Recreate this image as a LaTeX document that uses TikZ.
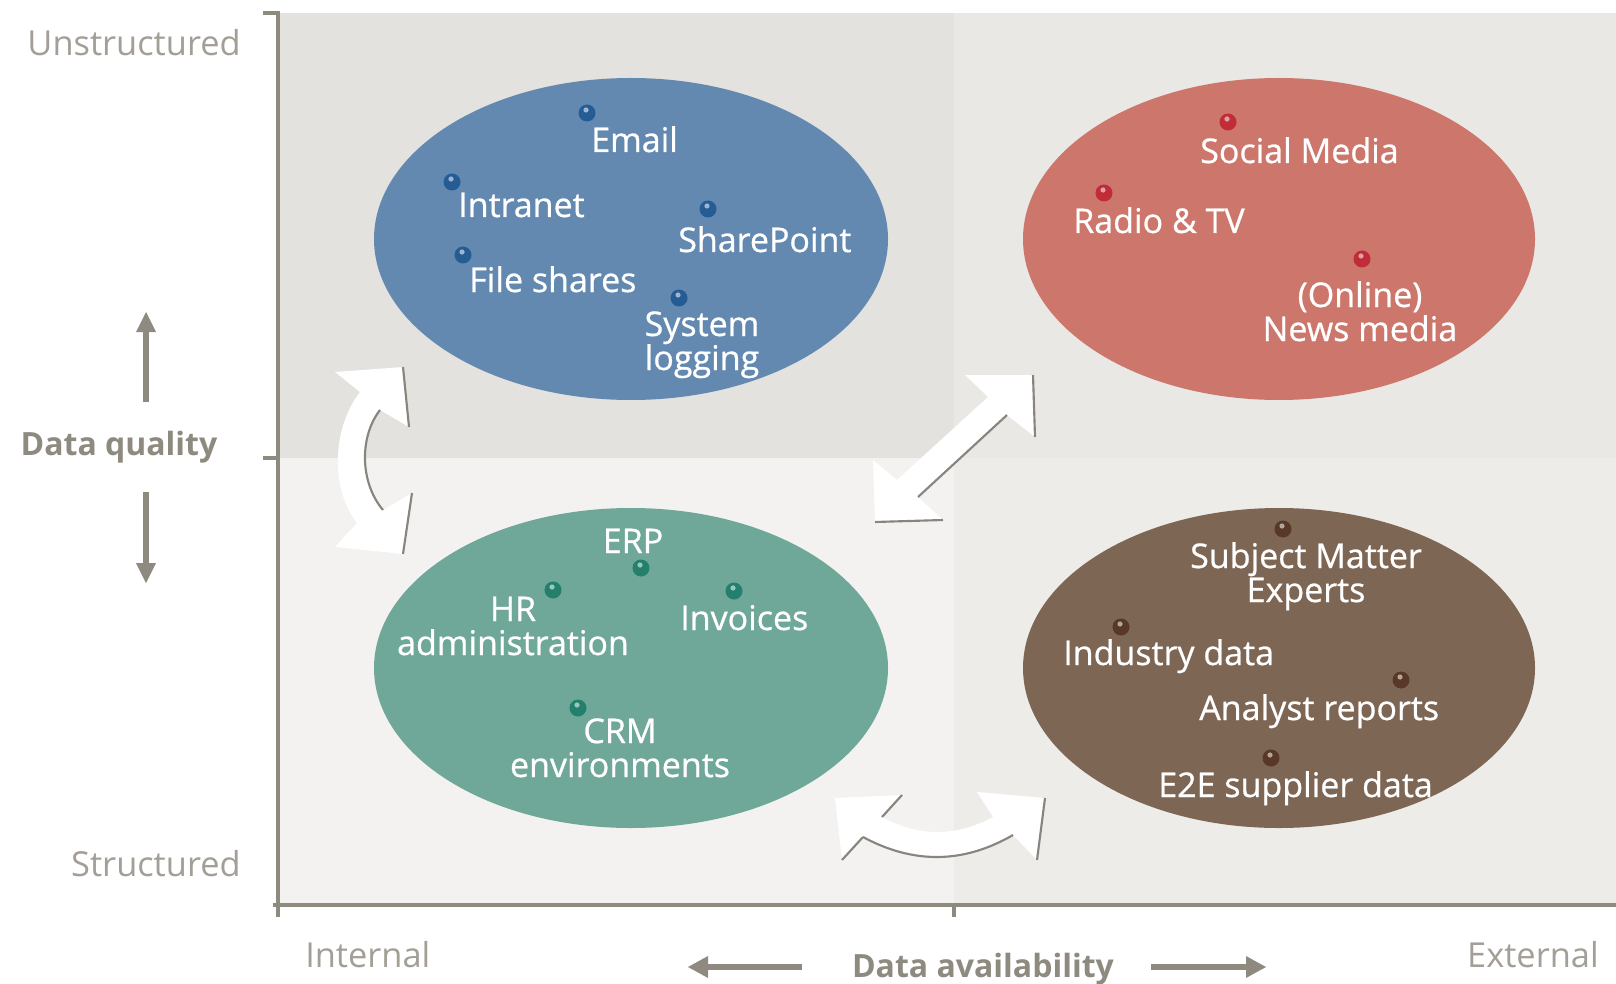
\documentclass[tikz,border=0pt]{standalone}
\usepackage{fontspec}
\setmainfont{Open Sans}
\newfontface\labelface{Open Sans}[FakeBold=0.7]
\usepackage{tikz}

\definecolor{axisgray}{RGB}{142,138,128}
\definecolor{lightgray}{RGB}{163,159,151}
\definecolor{shadowgray}{RGB}{136,133,126}
\definecolor{quadTL}{RGB}{227,226,222}
\definecolor{quadTR}{RGB}{233,232,228}
\definecolor{quadBL}{RGB}{243,242,240}
\definecolor{quadBR}{RGB}{237,236,232}
\definecolor{intblue}{RGB}{99,137,177}
\definecolor{extred}{RGB}{205,118,107}
\definecolor{intgreen}{RGB}{111,168,152}
\definecolor{extbrown}{RGB}{126,102,85}
\definecolor{bluedot}{RGB}{38,92,148}
\definecolor{reddot}{RGB}{192,44,56}
\definecolor{greendot}{RGB}{36,128,108}
\definecolor{browndot}{RGB}{88,56,38}

\tikzset{
  lbl/.style={text=white, inner sep=0.75pt, align=center,
    font=\labelface\fontsize{25.5}{25.5}\selectfont},
  axlbl/.style={text=lightgray, inner sep=0.75pt,
    font=\fontsize{25.8}{28}\selectfont},
  axbold/.style={text=axisgray, inner sep=0.75pt,
    font=\fontsize{24}{28}\selectfont\bfseries},
  shadowline/.style={draw=shadowgray, line width=1.6},
  gloss/.style={fill=white, opacity=0.55},
}

\begin{document}
\begin{tikzpicture}[x=0.75pt,y=0.75pt,yscale=-1,xscale=1]
\useasboundingbox (0,0) rectangle (1616,984);
\fill [white] (0,0) rectangle (1616,984);

% Quadrant backgrounds
\fill [quadTL] (278,13) rectangle (954,458);
\fill [quadTR] (954,13) rectangle (1616,458);
\fill [quadBL] (278,458) rectangle (954,905);
\fill [quadBR] (954,458) rectangle (1616,905);

% Axes and ticks
\draw [axisgray, line width=3.5] (278,13) -- (278,917);
\draw [axisgray, line width=3.5] (273,905) -- (1616,905);
\draw [axisgray, line width=3] (263,13) -- (280,13);
\draw [axisgray, line width=3] (263,458) -- (278,458);
\draw [axisgray, line width=3] (954,905) -- (954,917);

% Ellipses
\fill [intblue] (631,239) ellipse (257 and 161);
\fill [extred] (1279,239) ellipse (256 and 161);
\fill [intgreen] (631,668) ellipse (257 and 160);
\fill [extbrown] (1279,668) ellipse (256 and 160);

% Dots: internal, unstructured
\fill [bluedot] (587,113) circle (8.5);  \fill [gloss] (586,110) circle (2.6);
\fill [bluedot] (452,182) circle (8.5);  \fill [gloss] (451,179) circle (2.6);
\fill [bluedot] (708,209) circle (8.5);  \fill [gloss] (707,206) circle (2.6);
\fill [bluedot] (463,255) circle (8.5);  \fill [gloss] (462,252) circle (2.6);
\fill [bluedot] (679,298) circle (8.5);  \fill [gloss] (678,295) circle (2.6);
% Dots: external, unstructured
\fill [reddot] (1228,122) circle (8.5);  \fill [gloss] (1227,119) circle (2.6);
\fill [reddot] (1104,193) circle (8.5);  \fill [gloss] (1103,190) circle (2.6);
\fill [reddot] (1362,259) circle (8.5);  \fill [gloss] (1361,256) circle (2.6);
% Dots: internal, structured
\fill [greendot] (641,568) circle (8.5); \fill [gloss] (640,565) circle (2.6);
\fill [greendot] (553,590) circle (8.5); \fill [gloss] (552,587) circle (2.6);
\fill [greendot] (734,591) circle (8.5); \fill [gloss] (733,588) circle (2.6);
\fill [greendot] (578,708) circle (8.5); \fill [gloss] (577,705) circle (2.6);
% Dots: external, structured
\fill [browndot] (1283,529) circle (8.5); \fill [gloss] (1282,526) circle (2.6);
\fill [browndot] (1121,627) circle (8.5); \fill [gloss] (1120,624) circle (2.6);
\fill [browndot] (1401,680) circle (8.5); \fill [gloss] (1400,677) circle (2.6);
\fill [browndot] (1271,758) circle (8.5); \fill [gloss] (1270,755) circle (2.6);

% Curved double arrow on the left
\fill [white] (335,372) -- (403,367) -- (409,427) -- (380,410)
  .. controls (359,437) and (360,483) .. (383,510) -- (412,493) -- (403,554)
  -- (335,547) -- (357,523) .. controls (331,490) and (331,430) .. (360,392) -- cycle;
\draw [shadowline] (403,367) -- (409,427);
\draw [shadowline] (380,410) .. controls (359,437) and (360,483) .. (383,510);
\draw [shadowline] (412,493) -- (403,554);

% Diagonal double arrow
\fill [white] (965,375) -- (1033,375) -- (1035,437) -- (1007,415) -- (918,497)
  -- (943,520) -- (875,522) -- (873,460) -- (897,480) -- (988,397) -- cycle;
\draw [shadowline] (1033,375) -- (1035,437);
\draw [shadowline] (1007,415) -- (918,497);
\draw [shadowline] (875,522) -- (943,520);

% Curved double arrow at the bottom
\fill [white] (835,798) -- (902,795) -- (882,817)
  .. controls (919,837) and (956,837) .. (993,817) -- (977,792) -- (1045,798)
  -- (1037,860) -- (1013,835) .. controls (963,864) and (913,864) .. (863,837)
  -- (842,860) -- cycle;
\draw [shadowline] (902,795) -- (882,817);
\draw [shadowline] (863,837) -- (842,860);
\draw [shadowline] (1013,835) .. controls (963,864) and (913,864) .. (863,837);
\draw [shadowline] (1045,798) -- (1037,860);

% Data quality arrows
\draw [axisgray, line width=4] (146,402) -- (146,328);
\draw [shift={(146,312)}, rotate=90] [fill=axisgray, draw=none] (20,-10) -- (0,0) -- (20,10) -- cycle;
\draw [axisgray, line width=4] (146,492) -- (146,567);
\draw [shift={(146,583)}, rotate=270] [fill=axisgray, draw=none] (20,-10) -- (0,0) -- (20,10) -- cycle;
% Data availability arrows
\draw [axisgray, line width=5] (802,967) -- (704,967);
\draw [shift={(688,967)}, rotate=360] [fill=axisgray, draw=none] (20,-11) -- (0,0) -- (20,11) -- cycle;
\draw [axisgray, line width=5] (1151,967) -- (1250,967);
\draw [shift={(1266,967)}, rotate=180] [fill=axisgray, draw=none] (20,-11) -- (0,0) -- (20,11) -- cycle;

% Text Node: internal, unstructured (two-line nodes sit on their last baseline)
\node [lbl, anchor=base west] (email) at (590,152) {Email};
\node [lbl, anchor=base west] (intranet) at (457,217) {Intranet};
\node [lbl, anchor=base west] (sharepoint) at (677,252) {SharePoint};
\node [lbl, anchor=base west] (fileshares) at (468,292) {File shares};
\node [lbl, anchor=base] (syslog) at (702,370) {System\\logging};
% Text Node: external, unstructured
\node [lbl, anchor=base west] (social) at (1199,163) {Social Media};
\node [lbl, anchor=base west] (radiotv) at (1072,233) {Radio \& TV};
\node [lbl, anchor=base] (news) at (1360,341) {(Online)\\News media};
% Text Node: internal, structured
\node [lbl, anchor=base] (erp) at (633,553) {ERP};
\node [lbl, anchor=base] (hradmin) at (513,655) {HR\\administration};
\node [lbl, anchor=base west] (invoices) at (679,630) {Invoices};
\node [lbl, anchor=base] (crm) at (620,777) {CRM\\environments};
% Text Node: external, structured
\node [lbl, anchor=base] (sme) at (1306,602) {Subject Matter\\Experts};
\node [lbl, anchor=base west] (industry) at (1062,665) {Industry data};
\node [lbl, anchor=base west] (analyst) at (1198,720) {Analyst reports};
\node [lbl, anchor=base west] (e2e) at (1157,797) {E2E supplier data};

% Text Node: axis labels
\node [axlbl, anchor=base east] (unstructured) at (242,56) {Unstructured};
\node [axlbl, anchor=base east] (structured) at (242,876) {Structured};
\node [axbold, anchor=base] (quality) at (119,455) {Data quality};
\node [axlbl, anchor=base west] (internal) at (304,967) {Internal};
\node [axlbl, anchor=base east] (external) at (1600,967) {External};
\node [axbold, anchor=base] (availability) at (983,977) {Data availability};

\end{tikzpicture}
\end{document}
